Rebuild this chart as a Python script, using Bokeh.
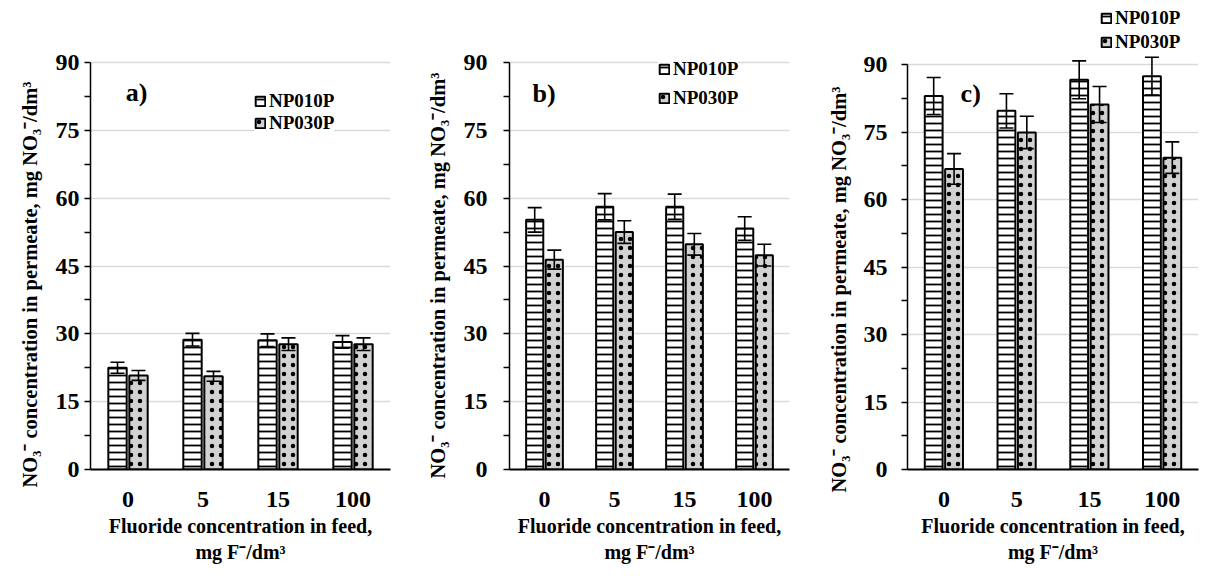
from bokeh.plotting import figure
from bokeh.models import (ColumnDataSource, FactorRange, FixedTicker, Whisker, TeeHead,
                          Legend, LegendItem, Label, Title)
from bokeh.transform import dodge
from bokeh.layouts import row
from bokeh.embed import file_html
from bokeh.resources import INLINE

categories = ["0", "5", "15", "100"]
series_names = ["NP010P", "NP030P"]

a_np010 = [22.5, 28.7, 28.6, 28.2]
a_np010_err = [1.2, 1.4, 1.4, 1.4]
a_np030 = [20.8, 20.6, 27.7, 27.7]
a_np030_err = [1.1, 1.1, 1.4, 1.4]

b_np010 = [55.2, 58.1, 58.1, 53.3]
b_np010_err = [2.7, 2.9, 2.8, 2.6]
b_np030 = [46.4, 52.5, 49.8, 47.4]
b_np030_err = [2.1, 2.5, 2.4, 2.4]

c_np010 = [83.0, 79.7, 86.6, 87.4]
c_np010_err = [4.1, 3.8, 4.2, 4.2]
c_np030 = [66.8, 74.9, 81.1, 69.3]
c_np030_err = [3.4, 3.6, 4.0, 3.5]

y_ticks = [0, 15, 30, 45, 60, 75, 90]
y_minor = [7.5, 22.5, 37.5, 52.5, 67.5, 82.5]
y_max = 90

FONT = "Liberation Serif"
YLABEL = "NO\u2083\u207b concentration in permeate,  mg NO\u2083\u207b/dm\u00b3"
XLABEL = "Fluoride concentration in feed,\nmg F\u207b/dm\u00b3"

TOP, BOTTOM = 3, 110


def panel(v1, e1, v2, e2, tag, width, bl, br, axis_px, tag_xy, leg_loc, leg_pad, leg_spacing,
          yl_offset, yl_standoff, ytick_standoff):
    frame_h = 579 - TOP - BOTTOM
    # frame reaches above the 90 line (room for the legend); the axis itself stops at 90
    y_end = y_max * frame_h / axis_px
    p = figure(width=width, height=579, x_range=FactorRange(*categories), y_range=(0, y_end),
               output_backend="svg", toolbar_location=None,
               min_border_left=bl, min_border_right=br, min_border_top=TOP, min_border_bottom=BOTTOM)
    p.outline_line_color = None
    p.background_fill_color = "white"
    p.border_fill_color = "white"

    src = ColumnDataSource(dict(cat=categories, v1=v1, v2=v2,
                                u1=[a + b for a, b in zip(v1, e1)], l1=[a - b for a, b in zip(v1, e1)],
                                u2=[a + b for a, b in zip(v2, e2)], l2=[a - b for a, b in zip(v2, e2)]))
    r1 = p.vbar(x=dodge("cat", -0.14, range=p.x_range), top="v1", width=0.245, source=src,
                fill_color="white", line_color="black", line_width=2,
                hatch_pattern="horizontal_line", hatch_color="black", hatch_scale=7, hatch_weight=1.8)
    r2 = p.vbar(x=dodge("cat", 0.14, range=p.x_range), top="v2", width=0.245, source=src,
                fill_color="#d2d2d2", line_color="black", line_width=2,
                hatch_pattern="dot", hatch_color="black", hatch_scale=9, hatch_weight=2.6)

    for off, u, l in ((-0.14, "u1", "l1"), (0.14, "u2", "l2")):
        w = Whisker(source=src, base=dodge("cat", off, range=p.x_range), upper=u, lower=l,
                    line_color="black", line_width=1.6, level="overlay",
                    upper_head=TeeHead(size=14, line_color="black", line_width=1.6),
                    lower_head=TeeHead(size=14, line_color="black", line_width=1.6))
        p.add_layout(w)

    p.yaxis.bounds = (0, y_max)
    p.ygrid.bounds = (0, y_max)
    p.yaxis.ticker = FixedTicker(ticks=y_ticks, minor_ticks=y_minor)
    p.yaxis.major_tick_in = 0
    p.yaxis.major_tick_out = 6
    p.yaxis.minor_tick_in = 0
    p.yaxis.minor_tick_out = 6
    p.yaxis.minor_tick_line_color = "black"
    p.yaxis.major_tick_line_width = 1.3
    p.yaxis.minor_tick_line_width = 1.3
    p.yaxis.axis_line_color = "black"
    p.yaxis.axis_line_width = 1.5
    p.yaxis.major_label_text_font = FONT
    p.yaxis.major_label_text_font_style = "bold"
    p.yaxis.major_label_text_font_size = "24px"
    p.yaxis.major_label_text_color = "black"
    p.yaxis.major_label_standoff = ytick_standoff

    # y-axis title, anchored near the bottom of the axis (as in the reference)
    ytitle = Title(text=YLABEL, align="left", vertical_align="bottom", offset=yl_offset,
                   standoff=yl_standoff, text_font=FONT, text_font_style="bold",
                   text_font_size="20.5px", text_color="black")
    p.add_layout(ytitle, "left")

    p.xaxis.major_tick_line_color = None
    p.xaxis.minor_tick_line_color = None
    p.xaxis.axis_line_color = "black"
    p.xaxis.axis_line_width = 2
    p.xaxis.major_label_text_font = FONT
    p.xaxis.major_label_text_font_style = "bold"
    p.xaxis.major_label_text_font_size = "24px"
    p.xaxis.major_label_text_color = "black"
    p.xaxis.major_label_standoff = 16
    p.xaxis.axis_label = XLABEL
    p.xaxis.axis_label_text_font = FONT
    p.xaxis.axis_label_text_font_style = "bold"
    p.xaxis.axis_label_text_font_size = "20px"
    p.xaxis.axis_label_text_color = "black"
    p.xaxis.axis_label_standoff = 5

    p.xgrid.grid_line_color = None
    p.ygrid.grid_line_color = "#d9d9d9"
    p.ygrid.grid_line_width = 1.5

    p.add_layout(Label(x=tag_xy[0], y=tag_xy[1], text=tag, text_font=FONT, text_font_style="bold",
                       text_font_size="26px", text_color="black", text_baseline="middle"))

    leg = Legend(items=[LegendItem(label=series_names[0], renderers=[r1]),
                        LegendItem(label=series_names[1], renderers=[r2])],
                 location=leg_loc, orientation="vertical", border_line_color=None,
                 background_fill_color="white", background_fill_alpha=1.0,
                 padding=leg_pad, margin=0, spacing=leg_spacing, glyph_width=12, glyph_height=12,
                 label_height=14, label_standoff=3,
                 label_text_font=FONT, label_text_font_style="bold", label_text_font_size="19px",
                 label_text_color="black")
    p.add_layout(leg, "center")
    return p


pa = panel(a_np010, a_np010_err, a_np030, a_np030_err, "a)", 400, 90, 10, 407,
           (0.47, 83.4), (164, 335), 3, 0, -18, 23, 5)
pb = panel(b_np010, b_np010_err, b_np030, b_np030_err, "b)", 400, 109, 11, 407,
           (0.33, 83.1), (149, 360), 0, 7, -9, 23, 16)
pc = panel(c_np010, c_np010_err, c_np030, c_np030_err, "c)", 409, 107, 11, 405,
           (0.73, 83.5), (193, 416), 0, 2, -23, 21, 14)

layout = row(pa, pb, pc)
open("out.html", "w").write(file_html(layout, INLINE))
